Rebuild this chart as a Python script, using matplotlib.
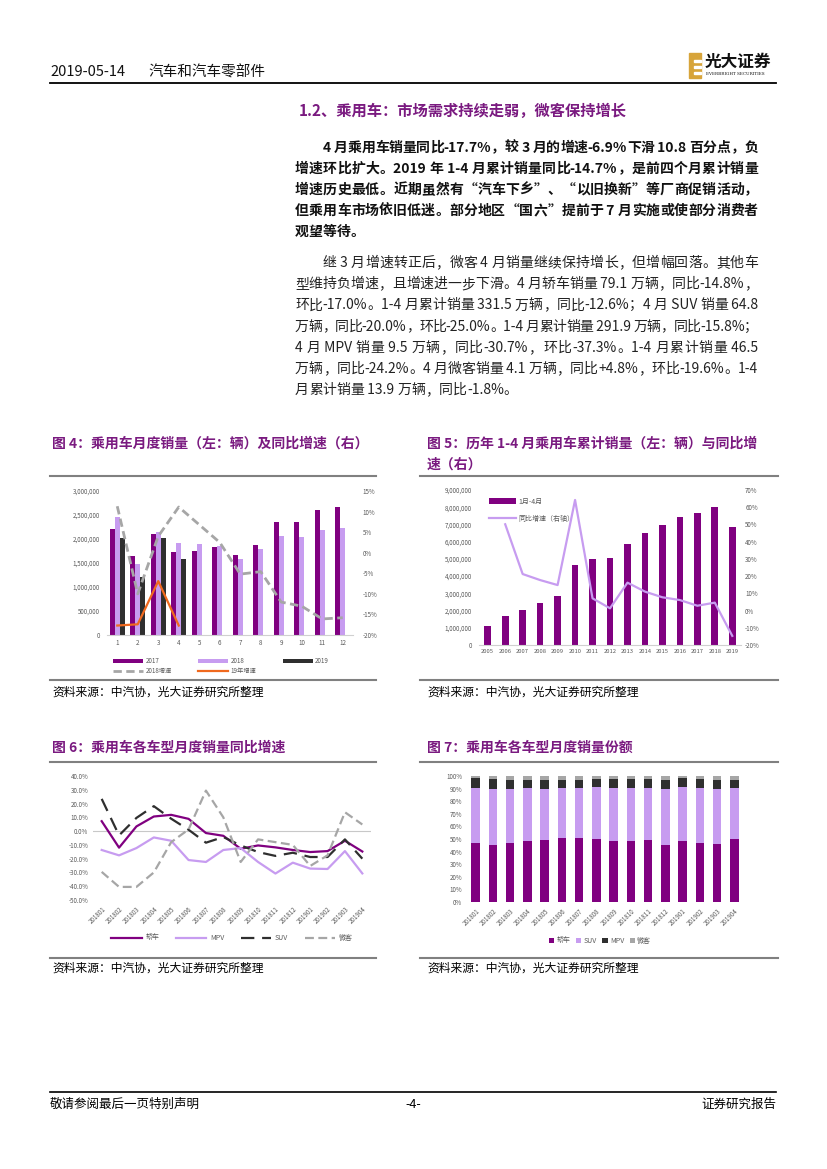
import re
import numpy as np
import matplotlib
matplotlib.use('Agg')
import matplotlib.pyplot as plt
from matplotlib.patches import Rectangle
from matplotlib.lines import Line2D
from matplotlib.ticker import FuncFormatter

plt.rcParams['font.family'] = ['Noto Sans CJK SC', 'DejaVu Sans']

W, H = 827, 1169
PURPLE = '#800080'
LILAC = '#C79CF0'
DARK = '#2F2F2F'
GRAY = '#A6A6A6'
ORANGE = '#F0691E'
TITLE = '#7A1A80'
TICK = '#595959'

# ---- data: fig 4, monthly passenger car sales (units) and yoy (%)
months = list(range(1, 13))
sales_2017 = [2217000, 1642000, 2099000, 1725000, 1746000, 1829000,
              1663000, 1871000, 2349000, 2349000, 2598000, 2660000]
sales_2018 = [2452000, 1476000, 2155000, 1912000, 1891000, 1864000,
              1580000, 1787000, 2058000, 2037000, 2182000, 2224000]
sales_2019 = [2016000, 1205000, 2016000, 1580000]
yoy_2018 = [11.3, -10.0, 4.0, 11.1, 6.8, 2.5, -5.2, -4.6, -12.0, -13.0, -16.1, -15.8]
yoy_2019 = [-17.7, -17.4, -6.9, -17.7]

# ---- fig 5, Jan-Apr cumulative sales by year and yoy (%)
years = [str(y) for y in range(2005, 2020)]
cum_sales = [1103000, 1684000, 2032000, 2439000, 2845000, 4665000, 4994000,
             5071000, 5865000, 6503000, 6968000, 7432000, 7665000, 8013000, 6852000]
cum_yoy = [50.1, 21.2, 17.7, 14.8, 64.2, 7.1, 1.3, 16.2, 11.0, 7.7, 6.1, 2.8, 4.6, -14.7]

# ---- fig 6, yoy by vehicle type (%)
periods = ['201801', '201802', '201803', '201804', '201805', '201806', '201807', '201808',
           '201809', '201810', '201811', '201812', '201901', '201902', '201903', '201904']
yoy_sedan = [7.2, -12.0, 3.4, 10.6, 11.8, 8.9, -1.4, -3.4, -12.8, -10.4, -11.8, -13.7,
             -15.2, -14.5, -7.0, -14.8]
yoy_mpv = [-13.7, -17.6, -12.3, -4.6, -7.0, -21.0, -22.4, -13.7, -12.3, -22.4, -30.8, -22.9,
           -27.2, -27.5, -14.5, -30.7]
yoy_suv = [23.4, -3.1, 9.6, 18.1, 9.0, 1.0, -8.4, -4.3, -10.4, -15.2, -18.0, -15.7,
           -18.8, -18.8, -6.0, -20.0]
yoy_micro = [-29.6, -40.5, -40.5, -30.0, -8.0, 1.2, 29.4, 10.0, -22.4, -6.0, -8.0, -10.0,
             -25.3, -17.6, 13.7, 4.8]

# ---- fig 7, share by vehicle type (%)
share_sedan = [46.9, 45.1, 46.9, 48.5, 49.3, 50.9, 50.9, 50.1, 48.5, 48.5, 49.3, 45.1,
               48.5, 46.9, 46.2, 50.1]
share_suv = [43.8, 44.6, 42.8, 42.2, 40.4, 39.8, 39.8, 41.4, 42.2, 42.2, 41.4, 44.6,
             43.0, 43.8, 43.5, 40.6]
share_mpv = [8.0, 7.9, 7.1, 6.1, 7.1, 6.1, 6.1, 6.1, 6.9, 6.9, 6.9, 7.1, 7.2, 6.9, 7.1, 6.1]
share_micro = [1.3, 2.4, 3.2, 3.2, 3.2, 3.2, 3.2, 2.4, 2.4, 2.4, 2.4, 3.2, 1.3, 2.4, 3.2, 3.2]

type_labels = ['轿车', 'MPV', 'SUV', '微客']

bold_lines = [
    "4 月乘用车销量同比-17.7%，较 3 月的增速-6.9%下滑 10.8 百分点，负",
    "增速环比扩大。2019 年 1-4 月累计销量同比-14.7%，是前四个月累计销量",
    "增速历史最低。近期虽然有“汽车下乡”、“以旧换新”等厂商促销活动，",
    "但乘用车市场依旧低迷。部分地区“国六”提前于 7 月实施或使部分消费者",
    "观望等待。",
]
body_lines = [
    "继 3 月增速转正后，微客 4 月销量继续保持增长，但增幅回落。其他车",
    "型维持负增速，且增速进一步下滑。4 月轿车销量 79.1 万辆，同比-14.8%，",
    "环比-17.0%。1-4 月累计销量 331.5 万辆，同比-12.6%；4 月 SUV 销量 64.8",
    "万辆，同比-20.0%，环比-25.0%。1-4 月累计销量 291.9 万辆，同比-15.8%；",
    "4 月 MPV 销量 9.5 万辆，同比-30.7%，环比-37.3%。1-4 月累计销量 46.5",
    "万辆，同比-24.2%。4 月微客销量 4.1 万辆，同比+4.8%，环比-19.6%。1-4",
    "月累计销量 13.9 万辆，同比-1.8%。",
]


def fx(x):
    return x / W


def fy(y):
    return 1 - y / H


fig = plt.figure(figsize=(W / 100, H / 100), dpi=100)
renderer = fig.canvas.get_renderer()


def axes_px(l, t, r, b):
    return fig.add_axes([l / W, 1 - b / H, (r - l) / W, (b - t) / H])


def hline(x0, x1, y, color='#808080', lw=1.5):
    fig.add_artist(Line2D([fx(x0), fx(x1)], [fy(y), fy(y)], color=color, lw=lw))


def put_line(x0, x1, y, s, justify=True, **kw):
    # place tokens one by one so the line fills x0..x1 like the justified page
    toks = re.findall(r'[ -~]+|.', s)
    arts, widths = [], []
    for tk in toks:
        t = fig.text(0, fy(y), tk, va='center', ha='left', **kw)
        widths.append(t.get_window_extent(renderer).width)
        arts.append(t)
    gap = 0
    if justify and len(toks) > 1:
        gap = (x1 - x0 - sum(widths)) / (len(toks) - 1)
    x = x0
    for t, w in zip(arts, widths):
        t.set_x(fx(x))
        x += w + gap


def clean(ax, bottom=False):
    for s in ax.spines.values():
        s.set_visible(False)
    if bottom:
        ax.spines['bottom'].set_visible(True)
        ax.spines['bottom'].set_color('#D0D0D0')
        ax.spines['bottom'].set_linewidth(0.8)
    ax.tick_params(length=0, labelsize=4.5, colors=TICK)


# ---- header / footer
fig.text(fx(50), fy(72), '2019-05-14', fontsize=10.5, va='center', color='#111111')
fig.text(fx(148), fy(72), '汽车和汽车零部件', fontsize=10.5, va='center', color='#111111')
hline(50, 776, 83, color='black', lw=1.3)
fig.add_artist(Rectangle((fx(689), fy(78)), 12 / W, 25 / H, color='#D7A43A', transform=fig.transFigure))
for yy in (60, 66, 72):
    fig.add_artist(Rectangle((fx(694), fy(yy + 1.5)), 7 / W, 2 / H, color='white', transform=fig.transFigure))
fig.text(fx(705), fy(62), '光大证券', fontsize=12, fontweight='bold', va='center', color='#111111')
fig.text(fx(706), fy(74), 'EVERBRIGHT SECURITIES', fontsize=3, va='center', color='#111111',
         family='DejaVu Serif')

hline(50, 776, 1092, color='black', lw=1.2)
fig.text(fx(50), fy(1104), '敬请参阅最后一页特别声明', fontsize=9, va='center')
fig.text(fx(413), fy(1104), '-4-', fontsize=9, va='center', ha='center')
fig.text(fx(776), fy(1104), '证券研究报告', fontsize=9, va='center', ha='right')

# ---- section text
fig.text(fx(299), fy(111), '1.2、乘用车：市场需求持续走弱，微客保持增长', fontsize=11,
         fontweight='bold', color=TITLE, va='center')
y0 = 148
for i, s in enumerate(bold_lines):
    put_line(323 if i == 0 else 295, 758, y0 + i * 21, s, justify=i < len(bold_lines) - 1,
             fontsize=10, fontweight='bold', color='#111111')
y0 = 263
for i, s in enumerate(body_lines):
    put_line(323 if i == 0 else 295, 758, y0 + i * 21.2, s, justify=i < len(body_lines) - 1,
             fontsize=10, color='#222222')

# ---- figure titles, rules, sources
fig.text(fx(52), fy(444), '图 4：乘用车月度销量（左：辆）及同比增速（右）', fontsize=10,
         fontweight='bold', color=TITLE, va='center')
fig.text(fx(427), fy(444), '图 5：历年 1-4 月乘用车累计销量（左：辆）与同比增', fontsize=10,
         fontweight='bold', color=TITLE, va='center')
fig.text(fx(427), fy(465), '速（右）', fontsize=10, fontweight='bold', color=TITLE, va='center')
fig.text(fx(52), fy(748), '图 6：乘用车各车型月度销量同比增速', fontsize=10,
         fontweight='bold', color=TITLE, va='center')
fig.text(fx(427), fy(748), '图 7：乘用车各车型月度销量份额', fontsize=10,
         fontweight='bold', color=TITLE, va='center')
for (a, b) in ((50, 376), (420, 778)):
    hline(a, b, 476)
    hline(a, b, 680)
    hline(a, b, 762)
    hline(a, b, 958)
for xx in (52, 427):
    fig.text(fx(xx), fy(692), '资料来源：中汽协，光大证券研究所整理', fontsize=8.5, va='center')
    fig.text(fx(xx), fy(968), '资料来源：中汽协，光大证券研究所整理', fontsize=8.5, va='center')

# ---- fig 4
ax4 = axes_px(107, 491, 353, 635)
x = np.arange(1, 13)
bw = 0.24
b17 = ax4.bar(x - bw, sales_2017, bw, color=PURPLE)
b18 = ax4.bar(x, sales_2018, bw, color=LILAC)
b19 = ax4.bar(x[:len(sales_2019)] + bw, sales_2019, bw, color=DARK)
ax4.set_xlim(0.5, 12.5)
ax4.set_ylim(0, 3000000)
ax4.set_yticks(np.arange(0, 3000001, 500000))
ax4.yaxis.set_major_formatter(FuncFormatter(lambda v, p: f'{v:,.0f}'))
ax4.set_xticks(x)
clean(ax4, bottom=True)
ax4.tick_params(axis='y', pad=5)
ax4.tick_params(axis='x', pad=3)
ax4r = ax4.twinx()
l18, = ax4r.plot(x, yoy_2018, color=GRAY, lw=2, dashes=(3, 1.6))
l19, = ax4r.plot(x[:len(yoy_2019)], yoy_2019, color=ORANGE, lw=1.6)
ax4r.set_ylim(-20, 15)
ax4r.set_yticks(np.arange(-20, 16, 5))
ax4r.yaxis.set_major_formatter(FuncFormatter(lambda v, p: f'{v:.0f}%'))
clean(ax4r)
ax4r.tick_params(axis='y', pad=7)
ax4.legend([b17, l18, b18, l19, b19], ['2017', '2018增速', '2018', '19年增速', '2019'],
           ncol=3, loc='upper left', bbox_to_anchor=(fx(110), fy(654)), bbox_transform=fig.transFigure,
           frameon=False, fontsize=4.5, handlelength=4.8, handleheight=0.7, handletextpad=0.4,
           columnspacing=4.2, labelspacing=0.35, borderpad=0, labelcolor=TICK)

# ---- fig 5
ax5 = axes_px(479, 490, 741, 645)
xi = np.arange(len(years))
bc = ax5.bar(xi, cum_sales, 0.38, color=PURPLE)
ax5.set_xlim(-0.5, len(years) - 0.5)
ax5.set_ylim(0, 9000000)
ax5.set_yticks(np.arange(0, 9000001, 1000000))
ax5.yaxis.set_major_formatter(FuncFormatter(lambda v, p: f'{v:,.0f}'))
ax5.set_xticks(xi)
ax5.set_xticklabels(years)
clean(ax5, bottom=True)
ax5.tick_params(axis='y', pad=5)
ax5.tick_params(axis='x', labelsize=4.2, pad=3)
ax5r = ax5.twinx()
lc, = ax5r.plot(xi[1:], cum_yoy, color=LILAC, lw=1.6)
ax5r.set_ylim(-20, 70)
ax5r.set_yticks(np.arange(-20, 71, 10))
ax5r.yaxis.set_major_formatter(FuncFormatter(lambda v, p: f'{v:.0f}%'))
clean(ax5r)
ax5r.tick_params(axis='y', pad=3)
ax5.legend([bc, lc], ['1月-4月', '同比增速（右轴）'], loc='upper left',
           bbox_to_anchor=(fx(486), fy(494)), bbox_transform=fig.transFigure, frameon=False,
           fontsize=5, handlelength=3.8, handleheight=0.8, handletextpad=0.4, labelspacing=1.3,
           borderpad=0, labelcolor=TICK)

# ---- fig 6
ax6 = axes_px(93, 776, 371, 900)
xp = np.arange(len(periods))
ax6.axhline(0, color='#C8C8C8', lw=0.8)
ax6.plot(xp, yoy_sedan, color=PURPLE, lw=1.6, label=type_labels[0])
ax6.plot(xp, yoy_mpv, color=LILAC, lw=1.6, label=type_labels[1])
ax6.plot(xp, yoy_suv, color=DARK, lw=1.6, dashes=(6, 3.5), label=type_labels[2])
ax6.plot(xp, yoy_micro, color=GRAY, lw=1.6, dashes=(4, 2), label=type_labels[3])
ax6.set_xlim(-0.5, len(periods) - 0.5)
ax6.set_ylim(-50, 40)
ax6.set_yticks(np.arange(-50, 41, 10))
ax6.yaxis.set_major_formatter(FuncFormatter(lambda v, p: f'{v:.1f}%'))
ax6.set_xticks(xp)
ax6.set_xticklabels(periods, rotation=45, ha='right', rotation_mode='anchor')
clean(ax6)
ax6.tick_params(axis='y', pad=3.5)
ax6.tick_params(axis='x', pad=4)
ax6.legend(ncol=4, loc='center', bbox_to_anchor=(fx(232), fy(938)), bbox_transform=fig.transFigure,
           frameon=False, fontsize=5, handlelength=4.4, handletextpad=0.5, columnspacing=2.4,
           borderpad=0, labelcolor=TICK)

# ---- fig 7
ax7 = axes_px(467, 776, 743, 902)
bottom = np.zeros(len(periods))
share_rows = [(share_sedan, PURPLE, '轿车'), (share_suv, LILAC, 'SUV'),
              (share_mpv, DARK, 'MPV'), (share_micro, GRAY, '微客')]
for vals, col, lab in share_rows:
    ax7.bar(xp, vals, 0.48, bottom=bottom, color=col, label=lab)
    bottom = bottom + np.array(vals)
ax7.set_xlim(-0.5, len(periods) - 0.5)
ax7.set_ylim(0, 100)
ax7.set_yticks(np.arange(0, 101, 10))
ax7.yaxis.set_major_formatter(FuncFormatter(lambda v, p: f'{v:.0f}%'))
ax7.set_xticks(xp)
ax7.set_xticklabels(periods, rotation=45, ha='right', rotation_mode='anchor')
clean(ax7)
ax7.tick_params(axis='y', pad=3.5)
ax7.tick_params(axis='x', pad=4)
ax7.legend(ncol=4, loc='center', bbox_to_anchor=(fx(600), fy(941)), bbox_transform=fig.transFigure,
           frameon=False, fontsize=5, handlelength=0.8, handleheight=0.8, handletextpad=0.3,
           columnspacing=0.8, borderpad=0, labelcolor=TICK)

fig.savefig('out.png', dpi=100)
